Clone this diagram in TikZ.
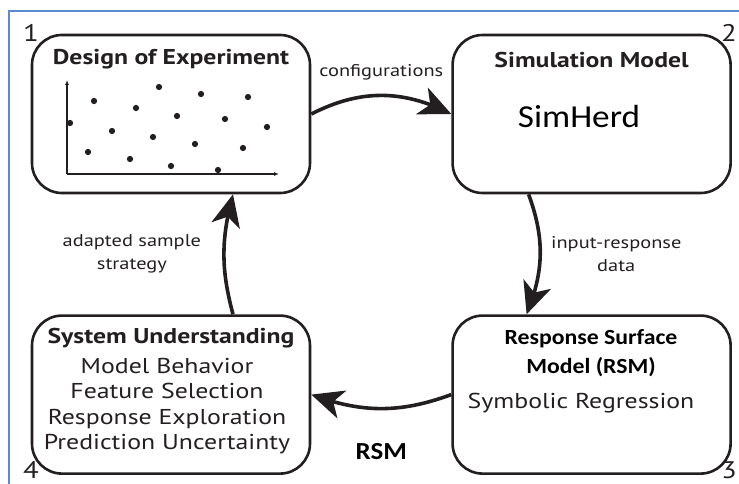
\documentclass[tikz,border=0pt]{standalone}
\usepackage{fontspec}
\setmainfont{PT Sans}[FakeStretch=1.2]
\newfontfamily\calfont{Carlito}[FakeStretch=1.1]
\usepackage{xcolor}
\usetikzlibrary{arrows.meta, bending, positioning}
\definecolor{frameblue}{HTML}{5B8BCF}
\definecolor{inkgray}{HTML}{231F20}

\begin{document}
\begin{tikzpicture}[
  x=1pt, y=1pt,
  node distance=120pt and 140pt,
  box/.style={rectangle, rounded corners=30pt, draw=inkgray, line width=2.6pt, minimum width=278pt, minimum height=158pt, inner sep=0pt},
  title/.style={font=\bfseries\fontsize{21.4}{24}\selectfont, text=inkgray, inner sep=0pt},
  body/.style={font=\fontsize{21.5}{25.3}\selectfont, text=inkgray, align=center, inner sep=0pt},
  lbl/.style={font=\fontsize{17}{23}\selectfont, text=inkgray, align=center, inner sep=0pt},
  num/.style={font=\fontsize{24}{24}\selectfont, text=inkgray, inner sep=0pt, anchor=base},
  flow/.style={-{Stealth[length=32pt, width=29pt, inset=9pt]}, line width=3.6pt, draw=inkgray},
  axis/.style={-{Latex[length=5pt, width=4pt]}, line width=1.3pt, draw=inkgray},
  dot/.style={circle, fill=inkgray, inner sep=0pt, minimum size=6.3pt}
]
\useasboundingbox (0,0) rectangle (739,-484);
\draw[draw=frameblue, line width=2pt] (739,-11) -- (9,-11) -- (9,-484);

% the four stages
\node[box] (doe) at (171,-114) {};
\node[box, right=of doe] (sim) {};
\node[box, below=of sim] (rsm) {};
\node[box, left=of rsm] (und) {};

\node[num] (n1) at (31,-42) {1};
\node[num] (n2) at (729,-42) {2};
\node[num] (n3) at (729,-478) {3};
\node[num] (n4) at (31,-478) {4};

% design of experiment
\node[title] (doet) at ([yshift=-25pt]doe.north) {Design of Experiment};
\coordinate (orig) at (67,-174);
\draw[axis] (orig) -- (67,-80);
\draw[axis] (orig) -- (279,-174);
\foreach \px/\py in {94/101, 159/87, 201/94, 248/97, 136/108, 177/116, 225/119,
  70/123, 267/127, 112/131, 153/137, 195/144, 243/148, 88/152, 130/159, 171/166, 218/170}
  \node[dot] at (\px,-\py) {};

% simulation model
\node[title] (simt) at ([yshift=-26pt]sim.north) {Simulation Model};
\node[font=\calfont\fontsize{32}{33}\selectfont, text=black, inner sep=0pt] (simherd) at (579,-117) {SimHerd};

% response surface model
\node[title, font=\calfont\bfseries\fontsize{21.6}{29}\selectfont, align=center, text=black] (rsmt) at (591,-353.5) {Response Surface\\Model (RSM)};
\node[body] (symreg) at (581,-403) {Symbolic Regression};

% system understanding
\node[title] (undt) at ([yshift=-24pt]und.north) {System Understanding};
\node[body] (undb) at (167,-406) {Model Behavior\\Feature Selection\\Response Exploration\\Prediction Uncertainty};

% the cycle
\draw[flow] (doe.east) to[bend left=27] node[lbl, yshift=23pt] {configurations} (sim.west);
\draw[flow] ([xshift=-63pt]sim.south) to[bend left=21] node[lbl, xshift=76pt] {input-response\\data} ([xshift=-65pt]rsm.north);
\draw[flow] (rsm.west) to[bend left=20] node[yshift=-43pt, font=\calfont\bfseries\fontsize{24.5}{25}\selectfont, text=black] {RSM} (und.east);
\draw[flow] ([xshift=62pt]und.north) to[bend left=15] node[lbl, xshift=-92pt] {adapted sample\\strategy} ([xshift=62pt]doe.south);
\end{tikzpicture}
\end{document}
